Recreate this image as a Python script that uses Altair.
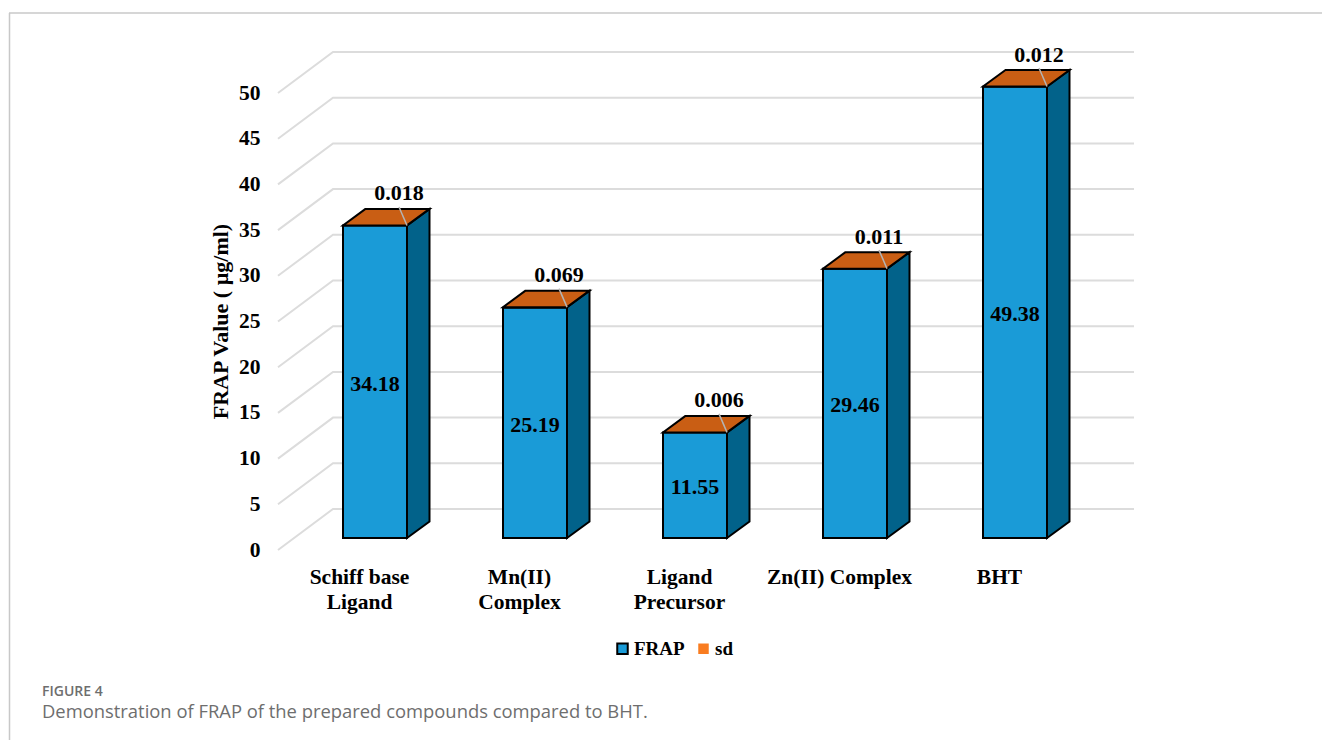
import json
import altair as alt
import pandas as pd

categories = [["Schiff base", "Ligand"], ["Mn(II)", "Complex"], ["Ligand", "Precursor"], ["Zn(II) Complex"], ["BHT"]]
frap = [34.18, 25.19, 11.55, 29.46, 49.38]
sd = [0.018, 0.069, 0.006, 0.011, 0.012]
y_ticks = [0, 5, 10, 15, 20, 25, 30, 35, 40, 45, 50]
series_names = ["FRAP", "sd"]

SERIF = "Liberation Serif"
BLUE, ORANGE, SIDE_BLUE, TOP_ORANGE = "#1a9bd7", "#f97c20", "#02628a", "#c95e14"

# Oblique projection: x is in category units (160 px), y in FRAP units (9.14 px).
PX_X, PX_Y = 160.0, 9.14
WALL_DX, WALL_DY = 55 / PX_X, 41 / PX_Y      # floor depth, front plane to back wall
BAR_DX, BAR_DY = 16 / PX_X, 12 / PX_Y        # how far into the floor the bars stand
DEPTH_DX, DEPTH_DY = 22.5 / PX_X, 16.5 / PX_Y  # bar depth
HALF = 32 / PX_X

WIDTH, HEIGHT = 856, 503
LEFT, TOP = 278, 47
x_scale = alt.Scale(domain=[(278 - 359) / PX_X, (1134 - 359) / PX_X], nice=False, zero=False)
y_scale = alt.Scale(domain=[0, HEIGHT / PX_Y], nice=False, zero=False)

grid_rows, front_rows, side_rows, top_rows, leader_rows, value_rows, sd_rows = [], [], [], [], [], [], []
x_lo = x_scale.domain[0]
x_hi = x_scale.domain[1]
for t in y_ticks:
    grid_rows += [
        {"tick": t, "step": 0, "x": x_lo, "y": t},
        {"tick": t, "step": 1, "x": x_lo + WALL_DX, "y": t + WALL_DY},
        {"tick": t, "step": 2, "x": x_hi, "y": t + WALL_DY},
    ]
for i, (v, s) in enumerate(zip(frap, sd)):
    x0 = i + BAR_DX - HALF
    x1 = i + BAR_DX + HALF
    base = BAR_DY
    top = v + BAR_DY
    cap = top + s
    front_rows.append({"series": "sd", "x": x0, "x2": x1, "y": top, "y2": cap})
    front_rows.append({"series": "FRAP", "x": x0, "x2": x1, "y": base, "y2": top})
    side_rows += [
        {"i": i, "x": x1, "y": base, "y2": cap},
        {"i": i, "x": x1 + DEPTH_DX, "y": base + DEPTH_DY, "y2": cap + DEPTH_DY},
    ]
    top_rows += [
        {"i": i, "y": cap, "x": x0, "x2": x1},
        {"i": i, "y": cap + DEPTH_DY, "x": x0 + DEPTH_DX, "x2": x1 + DEPTH_DX},
    ]
    leader_rows.append({"x": x1 - 8 / PX_X, "y": cap + 18.5 / PX_Y, "x2": x1, "y2": cap})
    value_rows.append({"x": i + BAR_DX, "y": v / 2 + BAR_DY, "label": f"{v:.2f}"})
    sd_rows.append({"x": i + BAR_DX + 24 / PX_X, "y": cap, "label": f"{s:.3f}"})

label_lookup = json.dumps(categories, ensure_ascii=False)

x_axis = alt.Axis(
    values=list(range(len(categories))), labelExpr=f"{label_lookup}[datum.value]",
    title=None, grid=False, domain=False, ticks=False, labelPadding=16,
    labelFont=SERIF, labelFontWeight="bold", labelFontSize=21.5, labelColor="black",
    labelLineHeight=25, labelFlush=False, labelOverlap=False, labelAngle=0,
)
y_axis = alt.Axis(
    values=y_ticks, title="FRAP Value ( µg/ml)", grid=False, domain=False, ticks=False, labelPadding=18,
    labelFont=SERIF, labelFontWeight="bold", labelFontSize=21.5, labelColor="black",
    titleFont=SERIF, titleFontWeight="bold", titleFontSize=22, titleColor="black",
    titleX=220 - LEFT, titleY=321 - TOP, titleAngle=270, titleAlign="center", titleBaseline="middle",
)

# The grid layer owns both axes; the other layers only share its scales.
qx = alt.X("x:Q", scale=x_scale)
qy = alt.Y("y:Q", scale=y_scale)

grid = alt.Chart(pd.DataFrame(grid_rows)).mark_line(color="#dcdcdc", strokeWidth=2).encode(
    x=alt.X("x:Q", scale=x_scale, axis=x_axis), y=alt.Y("y:Q", scale=y_scale, axis=y_axis),
    detail="tick:N", order="step:Q",
)

sides = alt.Chart(pd.DataFrame(side_rows)).mark_area(
    orient="vertical", color=SIDE_BLUE, stroke="black", strokeWidth=2, opacity=1
).encode(x=qx, y=qy, y2="y2:Q", detail="i:N")

fronts = alt.Chart(pd.DataFrame(front_rows)).mark_bar(strokeWidth=2, opacity=1).encode(
    x=qx, x2="x2:Q", y=qy, y2="y2:Q",
    color=alt.Color(
        "series:N",
        scale=alt.Scale(domain=series_names, range=[BLUE, ORANGE]),
        legend=alt.Legend(
            title=None, orient="none", legendX=613 - LEFT, legendY=639 - TOP, direction="horizontal",
            symbolType="square", symbolSize=110, symbolStrokeWidth=2, labelFont=SERIF, labelFontWeight="bold",
            labelFontSize=19, labelColor="black", columnPadding=9, labelOffset=2,
        ),
    ),
    stroke=alt.Stroke(
        "series:N", scale=alt.Scale(domain=series_names, range=["black", "transparent"]), legend=None
    ),
    order=alt.Order("series:N"),
)

tops = alt.Chart(pd.DataFrame(top_rows)).mark_area(
    orient="horizontal", color=TOP_ORANGE, stroke="black", strokeWidth=2, opacity=1
).encode(x=qx, x2="x2:Q", y=qy, detail="i:N")

leaders = alt.Chart(pd.DataFrame(leader_rows)).mark_rule(color="#b4b4b4", strokeWidth=1.5).encode(
    x=qx, x2="x2:Q", y=qy, y2="y2:Q"
)

value_text = alt.Chart(pd.DataFrame(value_rows)).mark_text(
    font=SERIF, fontWeight="bold", fontSize=22, color="black", dy=2
).encode(x=qx, y=qy, text="label:N")

sd_text = alt.Chart(pd.DataFrame(sd_rows)).mark_text(
    font=SERIF, fontWeight="bold", fontSize=22, color="black", dy=-32
).encode(x=qx, y=qy, text="label:N")

# Panel frame and caption, placed in the page margin around the plot.
frame_top = alt.Chart(pd.DataFrame({"k": [0]})).mark_rule(color="#c8c8c8", strokeWidth=1.5).encode(
    x=alt.value(9 - LEFT), x2=alt.value(1322 - LEFT), y=alt.value(13 - TOP)
)
frame_left = alt.Chart(pd.DataFrame({"k": [0]})).mark_rule(color="#c8c8c8", strokeWidth=1.5).encode(
    x=alt.value(9.5 - LEFT), y=alt.value(13 - TOP), y2=alt.value(740 - TOP)
)
caption_head = alt.Chart(pd.DataFrame({"t": ["FIGURE 4"]})).mark_text(
    font="Open Sans", fontSize=14, fontWeight=600, color="#6e6e6e", align="left", baseline="alphabetic"
).encode(x=alt.value(42 - LEFT), y=alt.value(696 - TOP), text="t:N")
caption_body = alt.Chart(pd.DataFrame({"t": ["Demonstration of FRAP of the prepared compounds compared to BHT."]})).mark_text(
    font="Open Sans", fontSize=18.4, color="#6e6e6e", align="left", baseline="alphabetic"
).encode(x=alt.value(42 - LEFT), y=alt.value(718 - TOP), text="t:N")

chart = alt.layer(
    grid, sides, fronts, tops, leaders, value_text, sd_text,
    frame_top, frame_left, caption_head, caption_body,
).resolve_scale(color="independent", stroke="independent").properties(
    width=WIDTH, height=HEIGHT, background="white",
    padding={"left": LEFT, "top": TOP, "right": 1322 - LEFT - WIDTH, "bottom": 740 - TOP - HEIGHT},
    autosize=alt.AutoSizeParams(type="none"),
).configure_view(stroke=None)

chart.save("out.html", embed_options={"renderer": "svg", "actions": False})
